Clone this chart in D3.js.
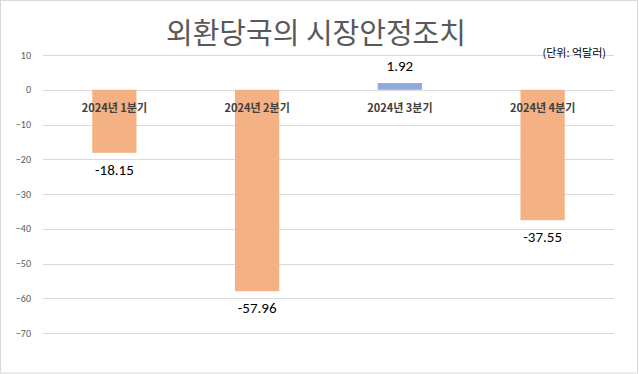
<!DOCTYPE html>
<html>
<head>
<meta charset="utf-8">
<script src="https://cdn.jsdelivr.net/npm/d3@7"></script>
<style>
  body { margin: 0; background: #fff; }
  svg { display: block; font-family: "Noto Sans CJK KR", "Noto Sans", sans-serif; }
</style>
</head>
<body>
<div id="chart"></div>
<script>
(function() {

  var categories = ["2024년 1분기", "2024년 2분기", "2024년 3분기", "2024년 4분기"],
      values = [-18.15, -57.96, 1.92, -37.55],
      yTicks = [10, 0, -10, -20, -30, -40, -50, -60, -70],
      title = "외환당국의 시장안정조치",
      unitLabel = "(단위: 억달러)";

  var width = 639,
      height = 374,
      margin = { top: 55, right: 25, bottom: 41, left: 43 };

  var svg = d3.select("#chart").append("svg")
      .attr("width", width)
      .attr("height", height);

  // outer frame
  svg.append("rect")
      .attr("x", 0.5).attr("y", 0.5)
      .attr("width", width - 2).attr("height", height - 1.5)
      .attr("fill", "#fff")
      .attr("stroke", "#d9d9d9");

  var x = d3.scaleBand()
      .domain(categories)
      .range([margin.left, width - margin.right])
      .paddingInner(0.69)
      .paddingOuter(0.345);

  var y = d3.scaleLinear()
      .domain([-70, 10])
      .range([height - margin.bottom, margin.top]);

  // gridlines
  svg.append("g")
    .selectAll("line")
    .data(yTicks)
    .enter().append("line")
      .attr("x1", margin.left)
      .attr("x2", width - margin.right)
      .attr("y1", function(d) { return Math.round(y(d)) + 0.5; })
      .attr("y2", function(d) { return Math.round(y(d)) + 0.5; })
      .attr("stroke", "#d9d9d9")
      .attr("stroke-width", 1);

  // y axis labels
  var yAxis = d3.axisLeft(y).tickValues(yTicks).tickSize(0).tickPadding(12);
  var gy = svg.append("g")
      .attr("transform", "translate(" + margin.left + ",0)")
      .call(yAxis);
  gy.select(".domain").remove();
  gy.selectAll("text")
      .attr("fill", "#595959")
      .attr("font-size", 10)
      .attr("font-family", "Calibri, 'Liberation Sans', sans-serif");

  // bars
  svg.append("g")
    .selectAll("rect")
    .data(values)
    .enter().append("rect")
      .attr("x", function(d, i) { return x(categories[i]); })
      .attr("width", x.bandwidth())
      .attr("y", function(d) { return y(Math.max(0, d)); })
      .attr("height", function(d) { return Math.abs(y(d) - y(0)); })
      .attr("fill", function(d) { return d < 0 ? "#f4b183" : "#8faadc"; });

  // category labels (drawn over the bars, just under zero line)
  svg.append("g")
    .selectAll("text")
    .data(categories)
    .enter().append("text")
      .attr("x", function(d) { return x(d) + x.bandwidth() / 2; })
      .attr("y", y(0) + 22)
      .attr("text-anchor", "middle")
      .attr("font-size", 11)
      .attr("font-weight", 600)
      .attr("fill", "#404040")
      .text(function(d) { return d; });

  // value labels
  svg.append("g")
    .selectAll("text")
    .data(values)
    .enter().append("text")
      .attr("x", function(d, i) { return x(categories[i]) + x.bandwidth() / 2; })
      .attr("y", function(d) { return d < 0 ? y(d) + 22 : y(d) - 12; })
      .attr("text-anchor", "middle")
      .attr("font-size", 15)
      .attr("fill", "#000")
      .attr("font-family", "Calibri, 'Liberation Sans', sans-serif")
      .text(function(d) { return d.toFixed(2); });

  // title
  svg.append("text")
      .attr("x", 316)
      .attr("y", 44)
      .attr("text-anchor", "middle")
      .attr("font-size", 29)
      .attr("fill", "#595959")
      .text(title);

  svg.append("text")
      .attr("x", 606)
      .attr("y", 57)
      .attr("text-anchor", "end")
      .attr("font-size", 11)
      .attr("fill", "#000")
      .text(unitLabel);

}());
</script>
</body>
</html>
